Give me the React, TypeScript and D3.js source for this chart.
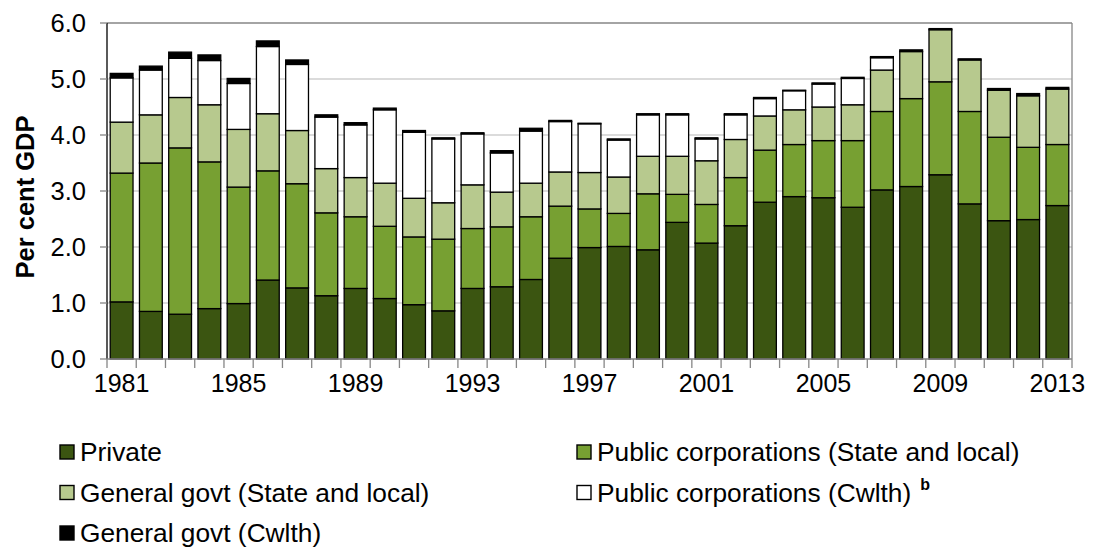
import React from "react";
import * as d3 from "d3";

const years = d3.range(1981, 2014).map(String);
const yTicks = [0, 1, 2, 3, 4, 5, 6];
const xLabelYears = ["1981", "1985", "1989", "1993", "1997", "2001", "2005", "2009", "2013"];

const privateVals = [1.02, 0.85, 0.8, 0.9, 0.99, 1.41, 1.27, 1.13, 1.26, 1.08, 0.97, 0.86, 1.26, 1.29, 1.42, 1.8, 1.99, 2.01, 1.95, 2.44, 2.07, 2.38, 2.8, 2.9, 2.88, 2.71, 3.02, 3.08, 3.29, 2.77, 2.47, 2.49, 2.74];
const pubCorpSL = [2.3, 2.65, 2.97, 2.62, 2.08, 1.95, 1.86, 1.48, 1.28, 1.29, 1.21, 1.28, 1.07, 1.07, 1.12, 0.93, 0.69, 0.59, 1.0, 0.5, 0.69, 0.86, 0.93, 0.93, 1.02, 1.19, 1.4, 1.57, 1.66, 1.65, 1.49, 1.29, 1.09];
const genGovSL = [0.91, 0.86, 0.9, 1.02, 1.03, 1.02, 0.95, 0.79, 0.7, 0.77, 0.69, 0.65, 0.78, 0.62, 0.6, 0.61, 0.65, 0.65, 0.67, 0.68, 0.78, 0.68, 0.61, 0.62, 0.6, 0.64, 0.74, 0.84, 0.93, 0.92, 0.84, 0.92, 0.99];
const pubCorpCw = [0.79, 0.8, 0.7, 0.79, 0.82, 1.2, 1.18, 0.92, 0.94, 1.31, 1.18, 1.14, 0.91, 0.7, 0.93, 0.9, 0.87, 0.66, 0.74, 0.74, 0.39, 0.44, 0.31, 0.34, 0.41, 0.47, 0.22, 0.0, 0.0, 0.0, 0.0, 0.0, 0.0];
const genGovCw = [0.08, 0.07, 0.11, 0.1, 0.09, 0.1, 0.08, 0.04, 0.04, 0.03, 0.03, 0.02, 0.02, 0.04, 0.05, 0.02, 0.01, 0.02, 0.02, 0.02, 0.02, 0.02, 0.02, 0.01, 0.02, 0.02, 0.02, 0.03, 0.02, 0.02, 0.03, 0.04, 0.03];

const seriesNames = [
  "Private",
  "Public corporations (State and local)",
  "General govt (State and local)",
  "Public corporations (Cwlth)",
  "General govt (Cwlth)",
];
const seriesColors = ["#3b5511", "#77a032", "#b7c98e", "#ffffff", "#000000"];

export default function App() {
  const W = 1093, H = 550;
  const left = 107, right = 1072, top = 23, bottom = 359;
  const x = d3.scaleBand<string>().domain(years).range([left, right]).paddingInner(0.22).paddingOuter(0.11);
  const xb = d3.scaleBand<string>().domain(years).range([left, right]);
  const y = d3.scaleLinear().domain([0, 6]).range([bottom, top]);

  const rows = years.map((yr, i) => ({
    year: yr,
    s0: privateVals[i],
    s1: pubCorpSL[i],
    s2: genGovSL[i],
    s3: pubCorpCw[i],
    s4: genGovCw[i],
  }));
  const keys = ["s0", "s1", "s2", "s3", "s4"];
  const stacked = d3.stack<any>().keys(keys)(rows);

  const font = "'Liberation Sans', Arial, sans-serif";
  const legendItems = [
    { i: 0, x: 59, y: 452 },
    { i: 1, x: 576, y: 452 },
    { i: 2, x: 59, y: 492.5 },
    { i: 3, x: 576, y: 492.5 },
    { i: 4, x: 59, y: 533 },
  ];

  return (
    <svg width={W} height={H} style={{ position: "absolute", left: 0, top: 0, background: "#fff" }}>
      {yTicks.filter((t) => t > 0 && t < 6).map((t) => (
        <line key={"g" + t} x1={left} x2={right} y1={y(t)} y2={y(t)} stroke="#cfcfcf" strokeWidth={1.5} />
      ))}
      <line x1={left} x2={right} y1={y(6)} y2={y(6)} stroke="#868686" strokeWidth={1.3} />
      <line x1={right} x2={right} y1={y(6)} y2={bottom} stroke="#868686" strokeWidth={1.3} />
      {stacked.map((layer, li) => (
        <g key={"l" + li}>
          {layer.map((d, j) => {
            const h = y(d[0]) - y(d[1]);
            if (h <= 0) return null;
            return (
              <rect
                key={j}
                x={x(years[j])}
                y={y(d[1])}
                width={x.bandwidth()}
                height={h}
                fill={seriesColors[li]}
                stroke="#000"
                strokeWidth={1.3}
              />
            );
          })}
        </g>
      ))}
      <line x1={left} x2={left} y1={top} y2={bottom} stroke="#000" strokeWidth={1.3} />
      <line x1={left} x2={right} y1={bottom} y2={bottom} stroke="#868686" strokeWidth={1.5} />
      {yTicks.map((t) => (
        <g key={"yt" + t}>
          <line x1={left - 7} x2={left} y1={y(t)} y2={y(t)} stroke="#868686" strokeWidth={1.3} />
          <text x={86} y={y(t)} dy="0.35em" textAnchor="end" fontFamily={font} fontSize={25.5} fill="#000">
            {t.toFixed(1)}
          </text>
        </g>
      ))}
      {years.concat(["end"]).map((yr, i) => {
        const xx = i < years.length ? (xb(yr) as number) : right;
        return <line key={"xt" + i} x1={xx} x2={xx} y1={bottom} y2={bottom + 9} stroke="#868686" strokeWidth={1.3} />;
      })}
      {xLabelYears.map((yr) => (
        <text key={"xl" + yr} x={(x(yr) as number) + x.bandwidth() / 2} y={392} textAnchor="middle" fontFamily={font} fontSize={25} fill="#000">
          {yr}
        </text>
      ))}
      <text transform={`translate(34,${(top + bottom) / 2 + 6}) rotate(-90)`} textAnchor="middle" fontFamily={font} fontSize={25.5} fontWeight="bold" fill="#000">
        Per cent GDP
      </text>
      {legendItems.map((it) => (
        <g key={"lg" + it.i}>
          <rect x={it.x + 1} y={it.y - 7} width={14} height={14} fill={seriesColors[it.i]} stroke="#000" strokeWidth={1.4} />
          <text x={it.x + 21} y={it.y} dy="0.35em" fontFamily={font} fontSize={26.3} fill="#000">
            {seriesNames[it.i]}
            {it.i === 3 ? (
              <tspan dx={9} dy={-12} fontSize={16} fontWeight="bold">b</tspan>
            ) : null}
          </text>
        </g>
      ))}
    </svg>
  );
}
